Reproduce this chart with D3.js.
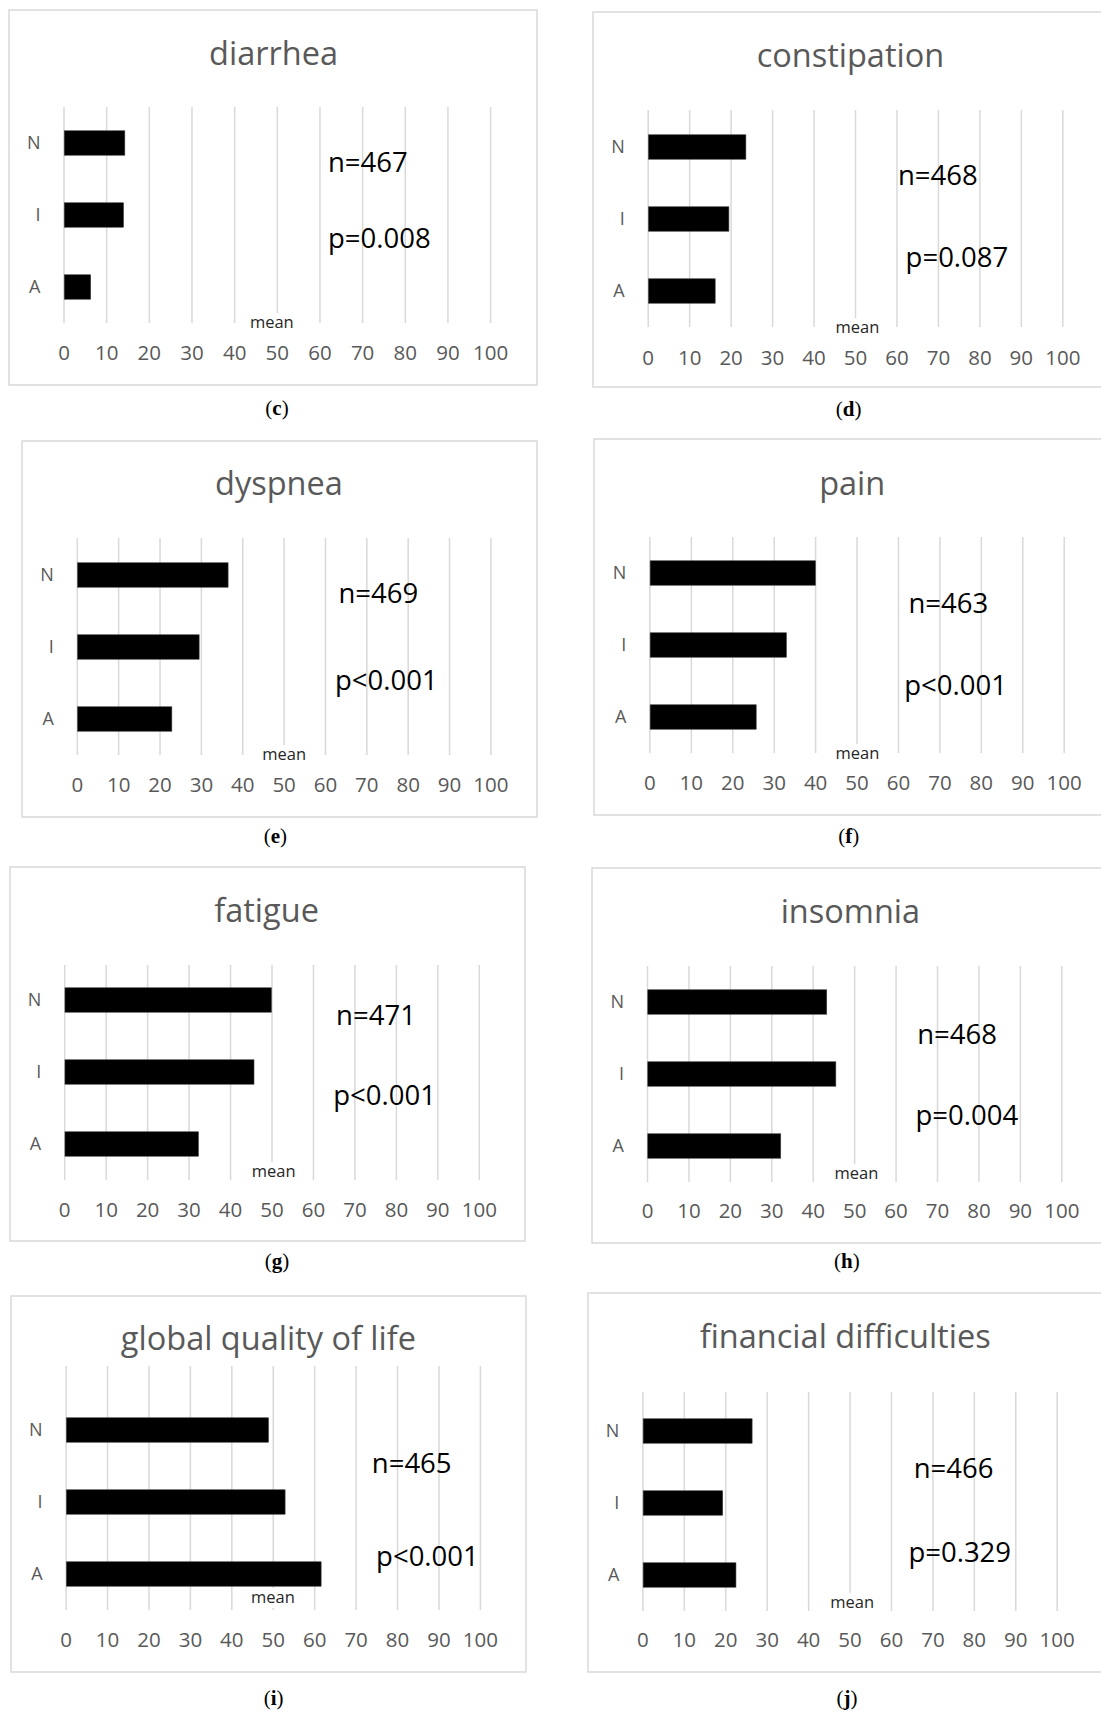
<!DOCTYPE html>
<html>
<head>
<meta charset="utf-8">
<script src="https://cdn.jsdelivr.net/npm/d3@7"></script>
<style>
  body { margin: 0; background: #fff; }
  text { font-family: "Open Sans", Lato, sans-serif; }
</style>
</head>
<body>
<div id="chart"></div>
<script>
// ---- data ----
const groups = ["N", "I", "A"];
const xTicks = [0, 10, 20, 30, 40, 50, 60, 70, 80, 90, 100];

const titles = ["diarrhea", "constipation", "dyspnea", "pain",
    "fatigue", "insomnia", "global quality of life", "financial difficulties"];
const captions = ["c", "d", "e", "f", "g", "h", "i", "j"];

// mean score per group, order N, I, A
const diarrhea = [14.2, 13.9, 6.2];
const constipation = [23.5, 19.4, 16.1];
const dyspnea = [36.4, 29.4, 22.8];
const pain = [39.9, 32.9, 25.6];
const fatigue = [49.8, 45.6, 32.2];
const insomnia = [43.2, 45.4, 32.1];
const globalQol = [48.8, 52.8, 61.5];
const financial = [26.3, 19.2, 22.4];

const nLabels = ["n=467", "n=468", "n=469", "n=463", "n=471", "n=468", "n=465", "n=466"];
const pLabels = ["p=0.008", "p=0.087", "p<0.001", "p<0.001", "p<0.001", "p=0.004", "p<0.001", "p=0.329"];

const seriesList = [diarrhea, constipation, dyspnea, pain, fatigue, insomnia, globalQol, financial];

// ---- layout of each panel (pixels) ----
const layout = [
    { box: [9, 10, 537, 385], x0: 63.5, x100: 490.1, gTop: 107, gBot: 323, title: [273.6, 65], n: [328, 172], p: [328, 248], mean: [271.8, 328], tickY: 360, cap: [277, 415] },
    { box: [593, 12, 1110, 387], x0: 647.7, x100: 1062.3, gTop: 110, gBot: 327, title: [850.4, 67], n: [897.9, 185], p: [905.6, 267], mean: [857.5, 333], tickY: 365, cap: [848.7, 416] },
    { box: [22, 441, 537, 817], x0: 76.8, x100: 490.4, gTop: 538, gBot: 755, title: [278.9, 495], n: [338.5, 603], p: [335, 690], mean: [284.2, 760], tickY: 792, cap: [275.4, 843] },
    { box: [594, 439, 1110, 815], x0: 649.4, x100: 1063.7, gTop: 537, gBot: 753, title: [852.2, 495], n: [908.4, 613], p: [904.2, 695], mean: [857.5, 759], tickY: 790, cap: [848.7, 843] },
    { box: [10, 867, 525, 1241], x0: 64.2, x100: 478.8, gTop: 965, gBot: 1180, title: [266.6, 922], n: [336.1, 1025], p: [333.3, 1105], mean: [273.6, 1177], tickY: 1217, cap: [277.1, 1268] },
    { box: [592, 868, 1110, 1243], x0: 647, x100: 1061.3, gTop: 966, gBot: 1182, title: [850.4, 923], n: [917.2, 1044], p: [915.5, 1125], mean: [856.4, 1179], tickY: 1218, cap: [846.9, 1268] },
    { box: [11, 1296, 526, 1672], x0: 65.6, x100: 479.9, gTop: 1366, gBot: 1610, title: [268.4, 1350], n: [371.8, 1473], p: [376.1, 1566], mean: [272.9, 1603], tickY: 1647, cap: [273.6, 1705] },
    { box: [588, 1293, 1110, 1672], x0: 642.4, x100: 1056.7, gTop: 1392, gBot: 1611, title: [845.2, 1348], n: [913.7, 1478], p: [908.4, 1562], mean: [852.2, 1608], tickY: 1647, cap: [846.9, 1705] }
];

const width = 1101, height = 1713;
const gridColor = "#d9d9d9", grayText = "#595959";

const svg = d3.select("#chart")
    .append("svg")
    .attr("width", width)
    .attr("height", height);

svg.append("rect").attr("width", width).attr("height", height).attr("fill", "#fff");

seriesList.forEach((values, i) => {
    const L = layout[i];
    const g = svg.append("g");

    // frame
    g.append("rect")
        .attr("x", L.box[0]).attr("y", L.box[1])
        .attr("width", L.box[2] - L.box[0]).attr("height", L.box[3] - L.box[1])
        .attr("fill", "#fff").attr("stroke", gridColor).attr("stroke-width", 1.5);

    const xScale = d3.scaleLinear().domain([0, 100]).range([L.x0, L.x100]);
    const yScale = d3.scaleBand()
        .domain(groups)
        .range([L.gBot - 216, L.gBot])
        .paddingInner(0.66)
        .paddingOuter(0.33);

    // vertical gridlines
    g.append("g")
        .attr("transform", `translate(0, ${L.gBot})`)
        .call(d3.axisBottom(xScale).tickValues(xTicks).tickSize(-(L.gBot - L.gTop)).tickFormat(""))
        .call(ax => ax.select(".domain").remove())
        .call(ax => ax.selectAll("line").attr("stroke", gridColor).attr("stroke-width", 1.5));

    // bars
    g.selectAll(".bar")
        .data(groups.map((k, j) => ({ k, v: values[j] })))
        .join("rect")
        .attr("class", "bar")
        .attr("x", xScale(0) + 0.75)
        .attr("y", d => yScale(d.k))
        .attr("width", d => xScale(d.v) - xScale(0))
        .attr("height", yScale.bandwidth())
        .attr("fill", "#000")
        .attr("stroke", "#444")
        .attr("stroke-width", 0.6);

    // category labels
    g.append("g")
        .attr("transform", `translate(${L.x0 - 23}, 0)`)
        .call(d3.axisLeft(yScale).tickSize(0).tickPadding(0))
        .call(ax => ax.select(".domain").remove())
        .call(ax => ax.selectAll("text")
            .attr("fill", grayText)
            .style("font-family", "'Open Sans', sans-serif")
            .style("font-size", "18px"));

    // tick labels
    g.append("g")
        .attr("transform", `translate(0, ${L.tickY})`)
        .call(d3.axisBottom(xScale).tickValues(xTicks).tickSize(0).tickPadding(0))
        .call(ax => ax.select(".domain").remove())
        .call(ax => ax.selectAll("text")
            .attr("y", 0).attr("dy", 0)
            .attr("fill", grayText)
            .style("font-family", "'Open Sans', sans-serif")
            .style("font-size", "20.5px"));

    // "mean" axis title with white backing
    const mean = g.append("text")
        .attr("x", L.mean[0]).attr("y", L.mean[1])
        .attr("text-anchor", "middle")
        .attr("fill", "#262626")
        .style("font-size", "16.5px")
        .text("mean");
    const bb = mean.node().getBBox();
    g.insert("rect", () => mean.node())
        .attr("x", bb.x - 2).attr("y", bb.y + 3)
        .attr("width", bb.width + 4).attr("height", bb.height - 3)
        .attr("fill", "#fff");

    // title
    g.append("text")
        .attr("x", L.title[0]).attr("y", L.title[1])
        .attr("text-anchor", "middle")
        .attr("fill", grayText)
        .style("font-size", "32.5px")
        .text(titles[i]);

    // n and p annotations
    g.append("text")
        .attr("x", L.n[0]).attr("y", L.n[1])
        .attr("fill", "#000")
        .style("font-size", "27.5px")
        .text(nLabels[i]);
    g.append("text")
        .attr("x", L.p[0]).attr("y", L.p[1])
        .attr("fill", "#000")
        .style("font-size", "27.5px")
        .text(pLabels[i]);

    // panel caption
    const cap = svg.append("text")
        .attr("x", L.cap[0]).attr("y", L.cap[1])
        .attr("text-anchor", "middle")
        .attr("fill", "#000")
        .style("font-family", "'Liberation Serif', 'DejaVu Serif', serif")
        .style("font-size", "21px");
    cap.append("tspan").text("(");
    cap.append("tspan").attr("font-weight", "bold").text(captions[i]);
    cap.append("tspan").text(")");
});
</script>
</body>
</html>
